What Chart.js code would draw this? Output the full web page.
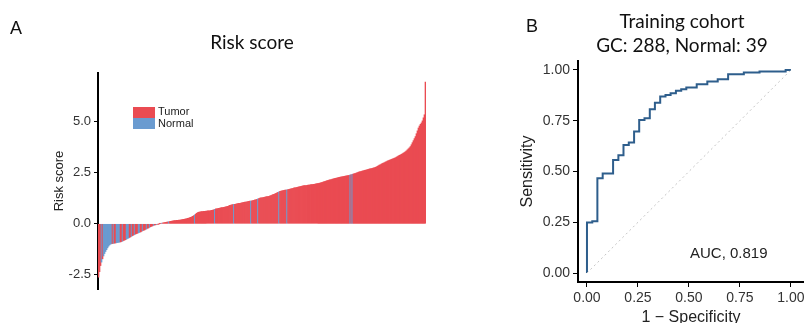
<!DOCTYPE html>
<html>
<head>
<meta charset="utf-8">
<script src="https://cdn.jsdelivr.net/npm/chart.js@4.4.1/dist/chart.umd.min.js"></script>
<style>
  html, body { margin: 0; padding: 0; background: #fff; }
  body { width: 804px; height: 323px; position: relative; overflow: hidden; }
  .txt { position: absolute; white-space: nowrap; color: #111; }
  .ttl { font-family: Lato, "Open Sans", sans-serif; font-size: 19px; line-height: 23px; text-align: center; }
  .panel { font-family: "Liberation Sans", Arial, sans-serif; font-size: 18px; }
  .leg { font-family: "Liberation Sans", Arial, sans-serif; font-size: 11px; color: #222; }
  .sw { position: absolute; width: 22px; height: 11px; }
  #cA { position: absolute; left: 0; top: 0; }
  #cB { position: absolute; left: 500px; top: 0; }
</style>
</head>
<body>
<canvas id="cA" width="470" height="323"></canvas>
<canvas id="cB" width="304" height="323"></canvas>

<div class="txt panel" style="left:10px; top:18px;">A</div>
<div class="txt panel" style="left:526px; top:16px;">B</div>
<div class="txt ttl" style="left:152px; width:200px; top:30px;">Risk score</div>
<div class="txt ttl" style="left:582px; width:200px; top:9px;">Training cohort</div>
<div class="txt ttl" style="left:582px; width:200px; top:33px;">GC: 288, Normal: 39</div>

<div class="sw" style="left:133px; top:107px; background:#EA4B52;"></div>
<div class="sw" style="left:133px; top:118px; background:#6A9BD0;"></div>
<div class="txt leg" style="left:158px; top:105px;">Tumor</div>
<div class="txt leg" style="left:158px; top:117px;">Normal</div>

<div class="txt" style="left:690px; top:244px; font-family:'Liberation Sans', Arial, sans-serif; font-size:15px; color:#222;">AUC, 0.819</div>

<script>
// ---------- Panel A data: sorted risk scores (327 samples) ----------
const riskScores = [
  -2.62,-2.35,-2.05,-1.88,-1.72,-1.58,-1.46,-1.36,-1.27,-1.18,-1.10,-1.04,-1.00,
  -0.98,-0.97,-0.96,-0.95,-0.94,-0.93,-0.92,-0.91,-0.90,-0.89,-0.87,-0.85,
  -0.82,-0.80,-0.78,-0.75,-0.72,-0.70,-0.67,-0.64,-0.61,-0.58,
  -0.55,-0.53,-0.50,-0.48,-0.46,-0.44,-0.42,-0.40,-0.37,-0.34,
  -0.32,-0.30,-0.27,-0.25,-0.22,-0.20,-0.17,-0.14,
  -0.12,-0.10,-0.08,-0.06,-0.05,-0.03,-0.02,-0.01,
  0.01,0.02,0.03,0.04,0.05,0.06,0.07,0.08,0.09,0.10,
  0.11,0.12,0.13,0.14,0.15,0.16,0.16,0.17,0.17,0.18,
  0.18,0.19,0.20,0.21,0.22,0.23,0.24,0.25,0.27,0.28,
  0.30,0.32,0.34,0.37,0.40,0.44,0.48,0.52,0.55,0.57,
  0.58,0.59,0.60,0.60,0.61,0.61,0.62,0.62,0.63,0.63,
  0.64,0.65,0.66,0.67,0.69,0.71,0.73,0.74,0.75,0.76,
  0.77,0.78,0.79,0.80,0.81,0.82,0.83,0.84,0.86,0.88,0.90,0.92,0.93,0.94,0.95,
  0.96,0.97,0.98,0.99,1.00,1.01,1.02,1.03,1.04,1.05,1.06,1.07,1.08,1.09,1.10,
  1.11,1.12,1.13,1.14,1.15,1.17,1.18,1.20,1.22,1.24,
  1.26,1.27,1.28,1.29,1.30,1.31,1.32,1.33,1.34,1.35,
  1.37,1.39,1.41,1.43,1.45,1.47,1.49,1.52,1.55,1.57,
  1.59,1.61,1.62,1.63,1.64,1.65,1.66,1.67,1.68,1.69,
  1.70,1.72,1.73,1.74,1.76,1.77,1.78,1.79,1.80,1.82,
  1.83,1.84,1.85,1.86,1.87,1.87,1.88,1.89,1.90,1.90,
  1.91,1.92,1.93,1.94,1.94,1.95,1.96,1.97,1.98,1.99,
  2.00,2.02,2.03,2.05,2.07,2.08,2.10,2.12,2.13,2.15,
  2.16,2.17,2.19,2.20,2.22,2.23,2.24,2.25,2.27,2.28,
  2.29,2.30,2.31,2.32,2.33,2.34,2.35,2.36,2.37,2.38,
  2.40,2.41,2.43,2.44,2.46,2.47,2.49,2.51,2.53,2.55,
  2.56,2.57,2.59,2.60,2.62,2.63,2.64,2.66,2.67,2.69,
  2.70,2.71,2.72,2.74,2.75,2.77,2.79,2.82,2.85,2.88,
  2.90,2.93,2.96,2.98,3.00,3.03,3.05,3.08,3.10,3.12,
  3.14,3.16,3.18,3.20,3.22,3.24,3.27,3.30,3.33,3.36,
  3.38,3.41,3.44,3.47,3.50,3.54,3.58,3.63,3.68,3.73,
  3.79,3.88,3.98,4.08,4.18,4.28,4.42,4.56,4.70,4.80,
  4.88,4.95,5.05,5.20,5.35,6.95
];
// positions (0-based, in sorted order) of the Normal samples; all others are Tumor
const normalIdx = [3,5,6,7,8,9,10,11,12,13,15,18,19,20,21,24,28,29,30,33,
                   36,40,41,44,48,51,55,58,63,70,
                   96,116,135,152,159,180,188,251,253];
const groupNames = ['Tumor', 'Normal'];
const groupColors = ['#EA4B52', '#6A9BD0'];
const riskTicks = [-2.5, 0, 2.5, 5.0];

// ---------- Panel B data: ROC curve ----------
const fpr = [0, 0, 0.026, 0.051, 0.077, 0.128, 0.154, 0.179, 0.205, 0.231, 0.256, 0.282,
             0.308, 0.333, 0.359, 0.385, 0.410, 0.436, 0.462, 0.487, 0.538, 0.590, 0.641,
             0.692, 0.769, 0.846, 0.974, 1.0];
const tpr = [0, 0.249, 0.255, 0.467, 0.490, 0.557, 0.580, 0.630, 0.643, 0.697, 0.754, 0.762,
             0.807, 0.839, 0.869, 0.877, 0.885, 0.897, 0.905, 0.913, 0.930, 0.943, 0.954,
             0.979, 0.988, 0.992, 1.0, 1.0];
const rocTicks = [0, 0.25, 0.5, 0.75, 1.0];
const chanceX = [0, 1];
const chanceY = [0, 1];

// ---------- Panel A chart ----------
const sampleLabels = riskScores.map((_, i) => 'S' + (i + 1));
const normalSet = new Set(normalIdx);
const barColors = riskScores.map((_, i) => groupColors[normalSet.has(i) ? 1 : 0]);

new Chart(document.getElementById('cA'), {
  type: 'bar',
  data: {
    labels: sampleLabels,
    datasets: [{
      data: riskScores,
      backgroundColor: barColors,
      borderWidth: 0,
      categoryPercentage: 1.0,
      barPercentage: 1.0
    }]
  },
  options: {
    responsive: false,
    animation: false,
    events: [],
    layout: { padding: { left: 52, right: 44, top: 73, bottom: 34 } },
    plugins: { legend: { display: false }, tooltip: { enabled: false } },
    scales: {
      x: { display: false },
      y: {
        min: -3.2, max: 7.4,
        afterBuildTicks: s => { s.ticks = riskTicks.map(v => ({ value: v })); },
        afterFit: s => { s.width = 46; s.paddingTop = 0; s.paddingBottom = 0; },
        border: { display: true, color: '#000', width: 2 },
        grid: { drawOnChartArea: false, drawTicks: true, tickLength: 4, color: '#000' },
        ticks: {
          color: '#333', padding: 3,
          font: { family: "'Liberation Sans', Arial, sans-serif", size: 13 },
          callback: v => Number(v).toFixed(1)
        },
        title: {
          display: true, text: 'Risk score', color: '#222', padding: 0,
          font: { family: "'Liberation Sans', Arial, sans-serif", size: 13 }
        }
      }
    }
  }
});

// ---------- Panel B chart ----------
const rocPoints = fpr.map((x, i) => ({ x: x, y: tpr[i] }));
const chancePoints = chanceX.map((x, i) => ({ x: x, y: chanceY[i] }));
const axisFont = { family: "'Liberation Sans', Arial, sans-serif", size: 14 };
const titleFont = { family: "'Liberation Sans', Arial, sans-serif", size: 16 };

new Chart(document.getElementById('cB'), {
  type: 'line',
  data: {
    datasets: [
      {
        data: chancePoints,
        borderColor: '#c4c4c4', borderWidth: 1, borderDash: [2, 3],
        pointRadius: 0, fill: false
      },
      {
        data: rocPoints,
        borderColor: '#2E5E8C', borderWidth: 2,
        stepped: true, pointRadius: 0, fill: false
      }
    ]
  },
  options: {
    responsive: false,
    animation: false,
    events: [],
    layout: { padding: { left: 18, right: 0, top: 61, bottom: 0 } },
    plugins: { legend: { display: false }, tooltip: { enabled: false } },
    scales: {
      x: {
        type: 'linear', min: -0.044, max: 1.064,
        afterBuildTicks: s => { s.ticks = rocTicks.map(v => ({ value: v })); },
        afterFit: s => { s.height = 41; s.paddingLeft = 0; s.paddingRight = 0; },
        border: { display: true, color: '#000', width: 2 },
        grid: { drawOnChartArea: false, drawTicks: true, tickLength: 5, color: '#000' },
        ticks: { color: '#333', padding: 3, font: axisFont, maxRotation: 0,
                 callback: v => Number(v).toFixed(2) },
        title: { display: true, text: '1 \u2212 Specificity', color: '#222',
                 padding: { top: 0, bottom: -4 }, font: titleFont }
      },
      y: {
        type: 'linear', min: -0.044, max: 1.044,
        afterBuildTicks: s => { s.ticks = rocTicks.map(v => ({ value: v })); },
        afterFit: s => { s.width = 60; s.paddingTop = 0; s.paddingBottom = 0; },
        border: { display: true, color: '#000', width: 2 },
        grid: { drawOnChartArea: false, drawTicks: true, tickLength: 5, color: '#000' },
        ticks: { color: '#333', padding: 3, font: axisFont,
                 callback: v => Number(v).toFixed(2) },
        title: { display: true, text: 'Sensitivity', color: '#222', padding: 0, font: titleFont }
      }
    }
  }
});
</script>
</body>
</html>
